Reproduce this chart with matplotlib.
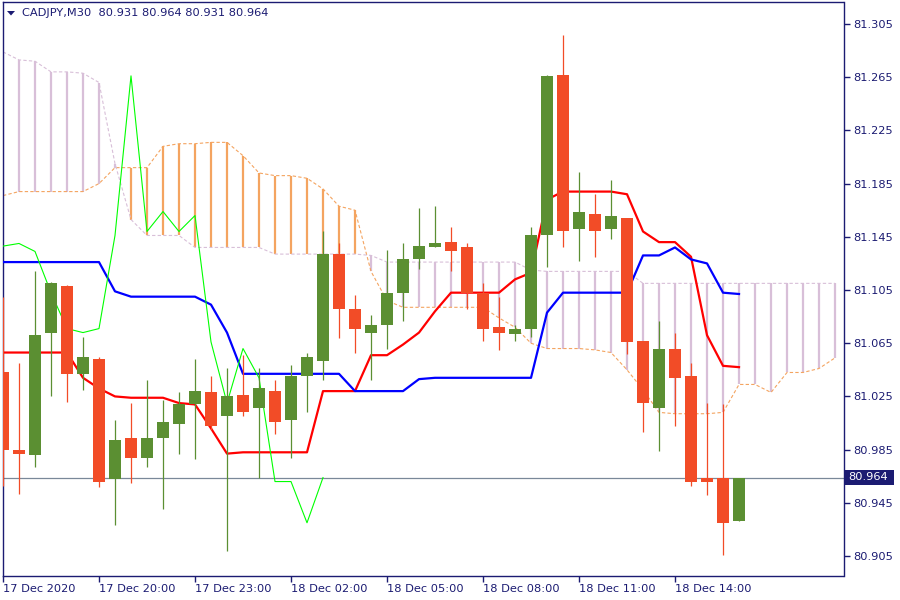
import matplotlib
matplotlib.use("Agg")
import matplotlib.pyplot as plt
from matplotlib.patches import Rectangle, Polygon

# ---------------- data ----------------
time_labels = ["17 Dec 2020", "17 Dec 20:00", "17 Dec 23:00", "18 Dec 02:00",
               "18 Dec 05:00", "18 Dec 08:00", "18 Dec 11:00", "18 Dec 14:00"]
time_pos = [0, 6, 12, 18, 24, 30, 36, 42]

open_ = [81.043, 80.985, 80.981, 81.073, 81.108, 81.042, 81.053, 80.963, 80.994, 80.979,
         80.994, 81.004, 81.019, 81.028, 81.010, 81.026, 81.016, 81.029, 81.007, 81.040,
         81.052, 81.132, 81.091, 81.073, 81.079, 81.103, 81.128, 81.137, 81.141, 81.137,
         81.103, 81.077, 81.072, 81.076, 81.146, 81.267, 81.151, 81.162, 81.151, 81.159,
         81.067, 81.016, 81.061, 81.040, 80.964, 80.964, 80.931]
high = [81.100, 81.050, 81.119, 81.111, 81.109, 81.070, 81.055, 81.007, 81.020, 81.037,
        81.022, 81.028, 81.053, 81.040, 81.046, 81.056, 81.046, 81.037, 81.049, 81.058,
        81.149, 81.140, 81.101, 81.086, 81.135, 81.140, 81.167, 81.168, 81.152, 81.140,
        81.110, 81.100, 81.079, 81.152, 81.267, 81.297, 81.194, 81.177, 81.188, 81.159,
        81.067, 81.082, 81.073, 81.050, 81.020, 81.019, 80.964]
low = [80.958, 80.952, 80.972, 81.025, 81.021, 81.030, 80.957, 80.928, 80.960, 80.972,
       80.940, 80.982, 80.978, 81.000, 80.909, 81.010, 80.964, 80.997, 80.979, 81.013,
       81.037, 81.069, 81.058, 81.037, 81.061, 81.082, 81.121, 81.137, 81.119, 81.091,
       81.067, 81.060, 81.067, 81.070, 81.122, 81.137, 81.127, 81.130, 81.143, 81.057,
       80.998, 80.984, 81.003, 80.958, 80.951, 80.906, 80.931]
close = [80.985, 80.982, 81.071, 81.110, 81.042, 81.055, 80.961, 80.992, 80.979, 80.994,
         81.006, 81.019, 81.029, 81.003, 81.025, 81.013, 81.031, 81.006, 81.040, 81.055,
         81.132, 81.091, 81.076, 81.079, 81.103, 81.128, 81.138, 81.140, 81.134, 81.103,
         81.076, 81.073, 81.076, 81.146, 81.266, 81.149, 81.164, 81.149, 81.161, 81.066,
         81.020, 81.061, 81.039, 80.961, 80.961, 80.930, 80.964]

tenkan = [81.058, 81.058, 81.058, 81.058, 81.058, 81.039, 81.031, 81.025, 81.024, 81.024,
          81.024, 81.020, 81.019, 81.001, 80.982, 80.983, 80.983, 80.983, 80.983, 80.983,
          81.029, 81.029, 81.029, 81.056, 81.056, 81.064, 81.073, 81.089, 81.103, 81.103,
          81.103, 81.103, 81.113, 81.118, 81.173, 81.179, 81.179, 81.179, 81.179, 81.177,
          81.149, 81.141, 81.141, 81.130, 81.071, 81.048, 81.047]
kijun = [81.126, 81.126, 81.126, 81.126, 81.126, 81.126, 81.126, 81.104, 81.100, 81.100,
         81.100, 81.100, 81.100, 81.094, 81.073, 81.042, 81.042, 81.042, 81.042, 81.042,
         81.042, 81.042, 81.029, 81.029, 81.029, 81.029, 81.038, 81.039, 81.039, 81.039,
         81.039, 81.039, 81.039, 81.039, 81.088, 81.103, 81.103, 81.103, 81.103, 81.103,
         81.131, 81.131, 81.137, 81.128, 81.125, 81.103, 81.102]
span_a = [81.176, 81.179, 81.179, 81.179, 81.179, 81.179, 81.185, 81.197, 81.197, 81.197,
          81.213, 81.215, 81.215, 81.216, 81.216, 81.206, 81.193, 81.191, 81.191, 81.189,
          81.181, 81.168, 81.165, 81.119, 81.097, 81.092, 81.092, 81.092, 81.092, 81.092,
          81.092, 81.084, 81.077, 81.065, 81.061, 81.061, 81.061, 81.060, 81.058, 81.045,
          81.030, 81.013, 81.012, 81.012, 81.012, 81.013, 81.034, 81.034, 81.028, 81.043,
          81.043, 81.046, 81.054]
span_b = [81.284, 81.278, 81.277, 81.269, 81.269, 81.268, 81.261, 81.200, 81.158, 81.146,
          81.146, 81.146, 81.137, 81.137, 81.137, 81.137, 81.137, 81.132, 81.132, 81.132,
          81.132, 81.132, 81.132, 81.131, 81.126, 81.126, 81.126, 81.126, 81.126, 81.126,
          81.126, 81.126, 81.126, 81.120, 81.119, 81.119, 81.119, 81.119, 81.119, 81.119,
          81.110, 81.110, 81.110, 81.110, 81.110, 81.110, 81.110, 81.110, 81.110, 81.110,
          81.110, 81.110, 81.110]
chikou_shift = 26
y_ticks = [81.305, 81.265, 81.225, 81.185, 81.145, 81.105, 81.065, 81.025,
           80.985, 80.945, 80.905]
last_price = 80.964
title = "CADJPY,M30  80.931 80.964 80.931 80.964"

# ---------------- style ----------------
NAVY = "#1B1B72"
BULL = "#5B8F32"
BEAR = "#F24C27"
SANDY = "#F4A460"
THISTLE = "#D8BFD8"
FONT = "DejaVu Sans"
FS = 8.2

fig = plt.figure(figsize=(9, 6), dpi=100)
fig.patch.set_facecolor("white")
ax = fig.add_axes([2.5 / 900, 24 / 600, 841 / 900, 573.7 / 600])
ax.set_facecolor("white")

# ---------------- cloud ----------------
xc = list(range(len(span_a)))
for i in xc:
    a, b = span_a[i], span_b[i]
    col = SANDY if a > b else THISTLE
    ax.vlines(i, min(a, b), max(a, b), color=col, lw=1.6, zorder=1)
ax.plot(xc, span_a, color=SANDY, lw=0.8, ls=(0, (3, 2)), zorder=2)
ax.plot(xc, span_b, color=THISTLE, lw=0.8, ls=(0, (3, 2)), zorder=2)

# current price line
ax.axhline(last_price, color="#7A8899", lw=0.9, zorder=2)

# ---------------- lines ----------------
xn = list(range(len(close)))
ax.plot(xn, tenkan, color="#FF0000", lw=1.6, zorder=4)
ax.plot(xn, kijun, color="#0000FF", lw=1.6, zorder=4)
chikou = close[chikou_shift:]
ax.plot(list(range(len(chikou))), chikou, color="#00FF00", lw=0.8, zorder=4)

# ---------------- candles ----------------
for i in xn:
    o, h, l, c = open_[i], high[i], low[i], close[i]
    col = BULL if c >= o else BEAR
    ax.vlines(i, l, h, color=col, lw=0.9, zorder=5)
    bot = min(o, c)
    hgt = max(abs(c - o), 0.0008)
    ax.bar(i, hgt, bottom=bot, width=0.69, color=col, edgecolor="none", zorder=6)

# ---------------- axes ----------------
ax.set_xlim(-0.031, 52.53)
ax.set_ylim(80.8900, 81.3213)
for s in ax.spines.values():
    s.set_color(NAVY)
    s.set_linewidth(1.0)

ax.yaxis.tick_right()
ax.set_yticks(y_ticks)
ax.set_yticklabels(["%.3f" % v for v in y_ticks], fontfamily=FONT, fontsize=FS, color=NAVY)
ax.tick_params(axis="y", direction="out", length=4, width=1, color=NAVY, pad=3)

ax.set_xticks(time_pos)
ax.set_xticklabels(time_labels, fontfamily=FONT, fontsize=FS, color=NAVY)
for lab in ax.get_xticklabels():
    lab.set_horizontalalignment("left")
ax.tick_params(axis="x", direction="out", length=4, width=1, color=NAVY, pad=2)

# price label box
fig.patches.append(Rectangle((845 / 900, (600 - 485) / 600), 49 / 900, 15 / 600,
                             transform=fig.transFigure, facecolor=NAVY,
                             edgecolor="none", zorder=10))
fig.text(848 / 900, (600 - 477.5) / 600, "%.3f" % last_price, color="white",
         fontfamily=FONT, fontsize=FS, va="center", ha="left", zorder=11)

# title with triangle
fig.patches.append(Polygon([(7 / 900, (600 - 11) / 600), (15 / 900, (600 - 11) / 600),
                            (11 / 900, (600 - 15.5) / 600)], closed=True,
                           transform=fig.transFigure, facecolor=NAVY, edgecolor="none"))
fig.text(22 / 900, (600 - 13) / 600, title, color=NAVY, fontfamily=FONT,
         fontsize=FS, va="center", ha="left")

fig.savefig("out.png", dpi=100, facecolor="white")
